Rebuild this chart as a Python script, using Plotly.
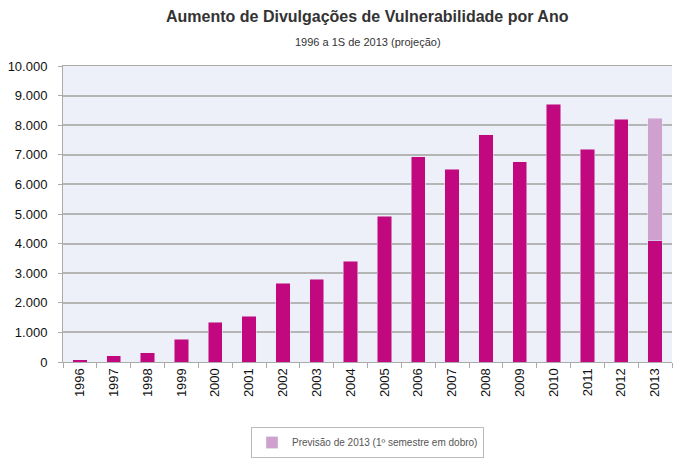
import plotly.graph_objects as go

years = [str(y) for y in range(1996, 2014)]
disclosures = [68, 203, 314, 777, 1351, 1554, 2669, 2800, 3412, 4932,
               6926, 6520, 7680, 6767, 8716, 7196, 8209, 4098]
forecast_2013 = [None] * 17 + [4145]

dark = "#C2087F"
light = "#CFA1CF"

fig = go.Figure()
fig.add_trace(go.Bar(x=years, y=disclosures, marker_color=dark, width=0.42,
                     showlegend=False, name="Divulgações"))
fig.add_trace(go.Bar(x=years, y=forecast_2013, marker_color=light, width=0.42,
                     name="Previsão de 2013 (1º semestre em dobro)"))

# page has an 8px body margin, so the figure is sized/offset to compensate
OFF = 8
W, H = 683 - OFF, 458 - OFF
M_L, M_R, M_T, M_B = 63 - OFF, 11, 66 - OFF, 96
H_PLOT = H - M_T - M_B


def py(pix):
    return (H - M_B - (pix - OFF)) / H_PLOT


fig.update_layout(
    width=W, height=H,
    barmode="stack",
    separators=",.",
    paper_bgcolor="white",
    plot_bgcolor="#EEF0F9",
    font=dict(family="Liberation Sans, Arial, sans-serif", color="#222"),
    margin=dict(l=M_L, r=M_R, t=M_T, b=M_B, autoexpand=False),
    annotations=[
        dict(text="<b>Aumento de Divulgações de Vulnerabilidade por Ano</b>",
             xref="paper", yref="paper", x=0.5, y=py(17),
             xanchor="center", yanchor="middle", showarrow=False,
             font=dict(size=16, color="#333")),
        dict(text="1996 a 1S de 2013 (projeção)",
             xref="paper", yref="paper", x=0.5, y=py(42),
             xanchor="center", yanchor="middle", showarrow=False,
             font=dict(size=11, color="#333")),
    ],
    legend=dict(orientation="h", x=0.5, xanchor="center",
                yref="paper", y=py(427), yanchor="top",
                bordercolor="#BBBBBB", borderwidth=1, bgcolor="white",
                itemwidth=30,
                font=dict(size=10, color="#555")),
    xaxis=dict(type="category", tickangle=-90, tickson="boundaries",
               ticks="outside", ticklen=5, tickcolor="#AAAAAA",
               showline=True, linecolor="#AAAAAA", linewidth=1, mirror=True,
               tickfont=dict(size=13, color="#111"), showgrid=False,
               automargin=False),
    yaxis=dict(range=[0, 10000], dtick=1000, tickformat=",d",
               gridcolor="#B5B5B5", gridwidth=1.5,
               ticks="outside", ticklen=4, tickcolor="#AAAAAA",
               ticklabelstandoff=8,
               showline=True, linecolor="#AAAAAA", linewidth=1,
               tickfont=dict(size=13, color="#111"), zeroline=False,
               automargin=False),
)

fig.write_html("out.html")
